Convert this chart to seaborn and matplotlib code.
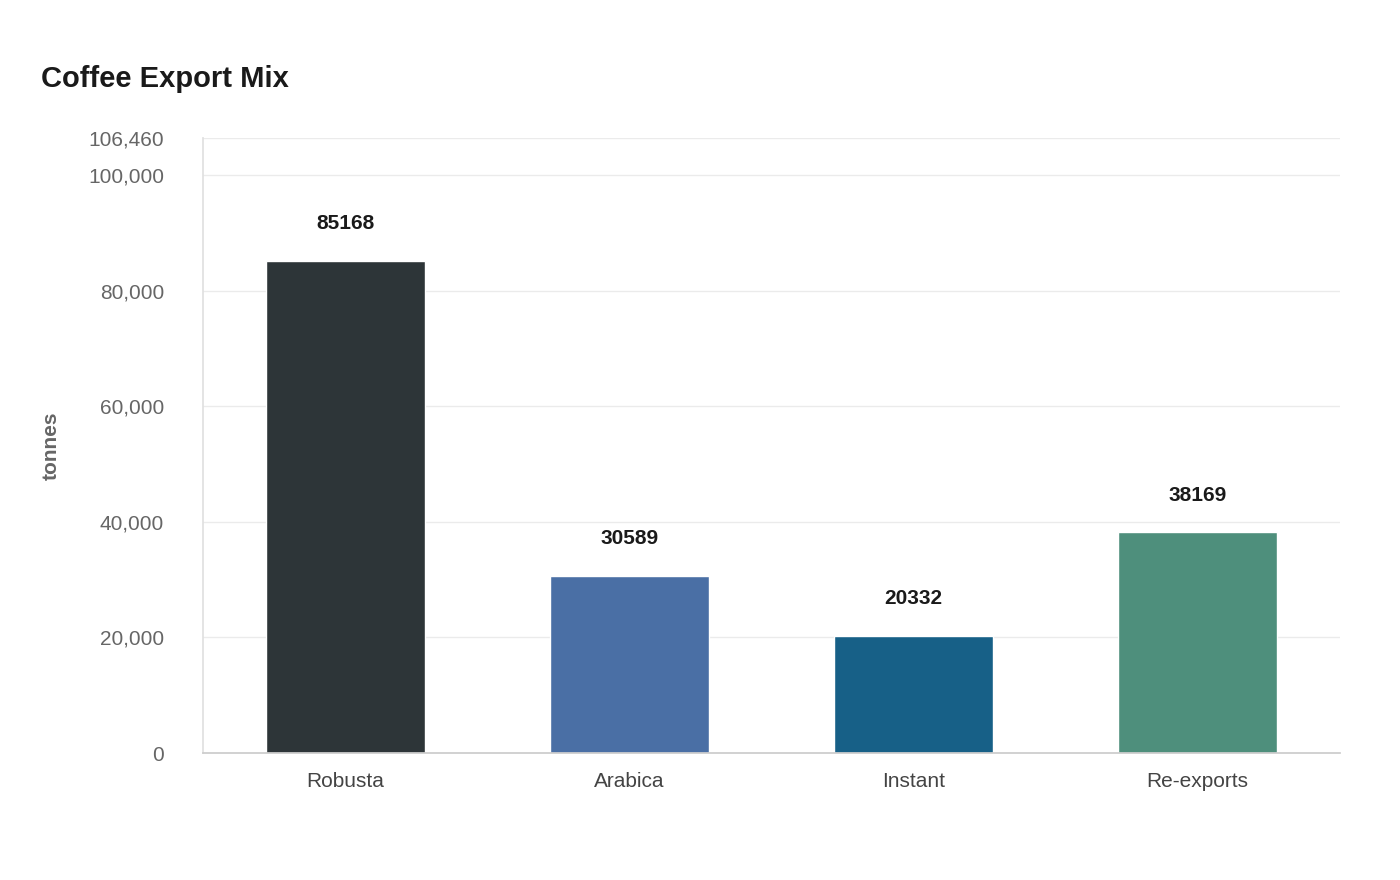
import matplotlib
matplotlib.use("Agg")
import matplotlib.pyplot as plt
import seaborn as sns
import pandas as pd

categories = ["Robusta", "Arabica", "Instant", "Re-exports"]
values = [85168, 30589, 20332, 38169]
colors = ["#2d3538", "#4a6fa5", "#176087", "#4e8f7c"]
yticks = [0, 20000, 40000, 60000, 80000, 100000, 106460]
ymax = 106460

sns.set_theme(style="white")
plt.rcParams['font.family'] = ['Liberation Sans', 'DejaVu Sans']

df = pd.DataFrame({"cat": categories, "val": values})
fig = plt.figure(figsize=(14, 8.8), dpi=100)
ax = fig.add_axes([0.145, 0.1443, 0.812, 0.699])
sns.barplot(data=df, x="cat", y="val", hue="cat", palette=colors, width=0.56,
            legend=False, ax=ax, saturation=1)
ax.set_ylim(0, ymax)
ax.set_xlim(-0.5, 3.5)
ax.set_yticks(yticks)
ax.set_yticklabels([f"{t:,}" for t in yticks], color="#666666", fontsize=15)
ax.tick_params(axis="x", labelsize=15, colors="#444444", pad=14, length=0)
ax.tick_params(axis="y", length=0, pad=28)
ax.grid(axis="y", color="#ebebeb", linewidth=1)
ax.set_axisbelow(True)
for s in ["top", "right"]:
    ax.spines[s].set_visible(False)
ax.spines["left"].set_color("#e0e0e0")
ax.spines["bottom"].set_color("#cccccc")
ax.set_xlabel("")
ax.set_ylabel("tonnes", fontsize=15, fontweight="bold", color="#666666", labelpad=20)
for i, v in enumerate(values):
    ax.annotate(str(v), (i, v), xytext=(0, 20), textcoords="offset points",
                ha="center", va="bottom", fontsize=15, fontweight="bold", color="#1a1a1a")
fig.text(0.029, 0.91, "Coffee Export Mix", fontsize=21, fontweight="bold", color="#1a1a1a",
         ha="left", va="center")
fig.savefig("out.png", dpi=100)
